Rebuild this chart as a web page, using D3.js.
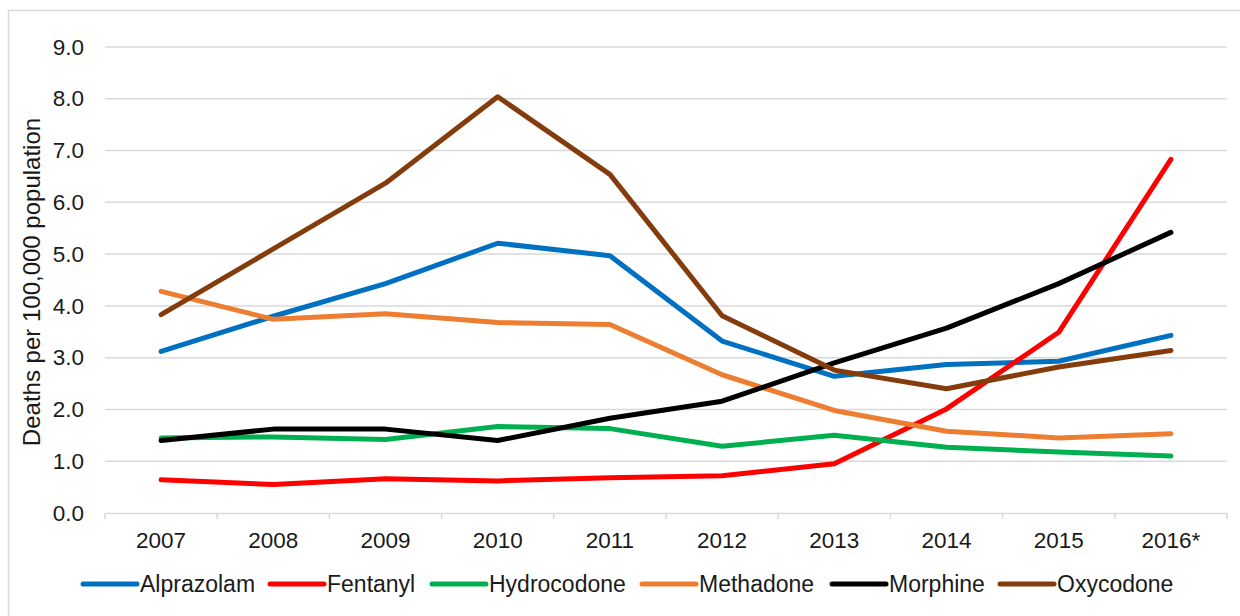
<!DOCTYPE html>
<html>
<head>
<meta charset="utf-8">
<script src="https://cdn.jsdelivr.net/npm/d3@7"></script>
<style>
  body { margin: 0; background: #fff; }
  text { font-family: "Liberation Sans", Arial, sans-serif; fill: #1a1a1a; }
</style>
</head>
<body>
<svg id="chart" width="1240" height="616"></svg>
<script>
// data
var years = ["2007", "2008", "2009", "2010", "2011", "2012", "2013", "2014", "2015", "2016*"];
var yTicks = [0, 1, 2, 3, 4, 5, 6, 7, 8, 9];
var drugNames = ["Alprazolam", "Fentanyl", "Hydrocodone", "Methadone", "Morphine", "Oxycodone"];
var drugColors = ["#0070c0", "#ff0000", "#00b050", "#ed7d31", "#000000", "#843c0c"];
var alprazolam = [3.12, 3.80, 4.43, 5.21, 4.97, 3.32, 2.64, 2.87, 2.93, 3.43];
var fentanyl = [0.64, 0.55, 0.66, 0.62, 0.68, 0.72, 0.95, 2.01, 3.49, 6.83];
var hydrocodone = [1.45, 1.47, 1.42, 1.67, 1.63, 1.29, 1.50, 1.27, 1.18, 1.10];
var methadone = [4.28, 3.74, 3.85, 3.68, 3.64, 2.67, 1.98, 1.58, 1.45, 1.53];
var morphine = [1.40, 1.62, 1.62, 1.40, 1.83, 2.16, 2.90, 3.57, 4.43, 5.42];
var oxycodone = [3.83, 5.10, 6.37, 8.04, 6.54, 3.81, 2.76, 2.40, 2.82, 3.14];

var seriesValues = [alprazolam, fentanyl, hydrocodone, methadone, morphine, oxycodone];
var series = drugNames.map(function (name, i) {
  return { name: name, color: drugColors[i], values: seriesValues[i] };
});

var svg = d3.select("#chart");
var margin = { top: 47, left: 105, right: 13, bottom: 103 };
var width = 1240 - margin.left - margin.right;
var height = 616 - margin.top - margin.bottom;

// outer frame
svg.append("rect")
  .attr("x", 8.5).attr("y", 10.5)
  .attr("width", 1240).attr("height", 620)
  .attr("fill", "none").attr("stroke", "#d9d9d9").attr("stroke-width", 1.5);

var g = svg.append("g").attr("transform", "translate(" + margin.left + "," + margin.top + ")");

var x = d3.scaleBand().domain(years).range([0, width]);
var y = d3.scaleLinear().domain([0, 9]).range([height, 0]);

// gridlines
g.selectAll(".grid").data(yTicks.filter(function (d) { return d > 0; }))
  .enter().append("line")
  .attr("x1", 0).attr("x2", width)
  .attr("y1", function (d) { return y(d); }).attr("y2", function (d) { return y(d); })
  .attr("stroke", "#d9d9d9").attr("stroke-width", 1.5);

// y axis labels
var yAxis = d3.axisLeft(y).tickValues(yTicks).tickFormat(d3.format(".1f")).tickSize(0).tickPadding(21);
var gY = g.append("g").call(yAxis);
gY.select(".domain").remove();
gY.selectAll("text").style("font-size", "22.5px").style("font-family", "Liberation Sans, Arial, sans-serif").attr("fill", "#1a1a1a");

// x axis
var xAxis = d3.axisBottom(x).tickSize(0).tickPadding(19);
var gX = g.append("g").attr("transform", "translate(0," + height + ")").call(xAxis);
gX.select(".domain").attr("stroke", "#d9d9d9").attr("stroke-width", 1.5);
gX.selectAll("text").style("font-size", "22.5px").style("font-family", "Liberation Sans, Arial, sans-serif").attr("fill", "#1a1a1a");

// category boundary ticks
var bounds = years.map(function (d) { return x(d); }).concat([width]);
g.selectAll(".tk").data(bounds).enter().append("line")
  .attr("x1", function (d) { return d; }).attr("x2", function (d) { return d; })
  .attr("y1", height).attr("y2", height + 6)
  .attr("stroke", "#d9d9d9").attr("stroke-width", 1.5);

// y axis title
svg.append("text")
  .attr("transform", "translate(40," + 282 + ") rotate(-90)")
  .attr("text-anchor", "middle")
  .style("font-size", "24px")
  .text("Deaths per 100,000 population");

// lines
var line = d3.line()
  .x(function (d, i) { return x(years[i]) + x.bandwidth() / 2; })
  .y(function (d) { return y(d); });

g.selectAll(".series").data(series).enter().append("path")
  .attr("d", function (d) { return line(d.values); })
  .attr("fill", "none")
  .attr("stroke", function (d) { return d.color; })
  .attr("stroke-width", 5)
  .attr("stroke-linecap", "round")
  .attr("stroke-linejoin", "round");

// legend
var legendX = [83, 270, 432, 642, 832, 1000];
var legendY = 584;
var lg = svg.append("g").selectAll("g").data(series).enter().append("g")
  .attr("transform", function (d, i) { return "translate(" + legendX[i] + "," + legendY + ")"; });
lg.append("line")
  .attr("x1", 0).attr("x2", 54).attr("y1", 0).attr("y2", 0)
  .attr("stroke", function (d) { return d.color; })
  .attr("stroke-width", 5).attr("stroke-linecap", "round");
lg.append("text")
  .attr("x", 57).attr("y", 8)
  .style("font-size", "23px")
  .text(function (d) { return d.name; });
</script>
</body>
</html>
